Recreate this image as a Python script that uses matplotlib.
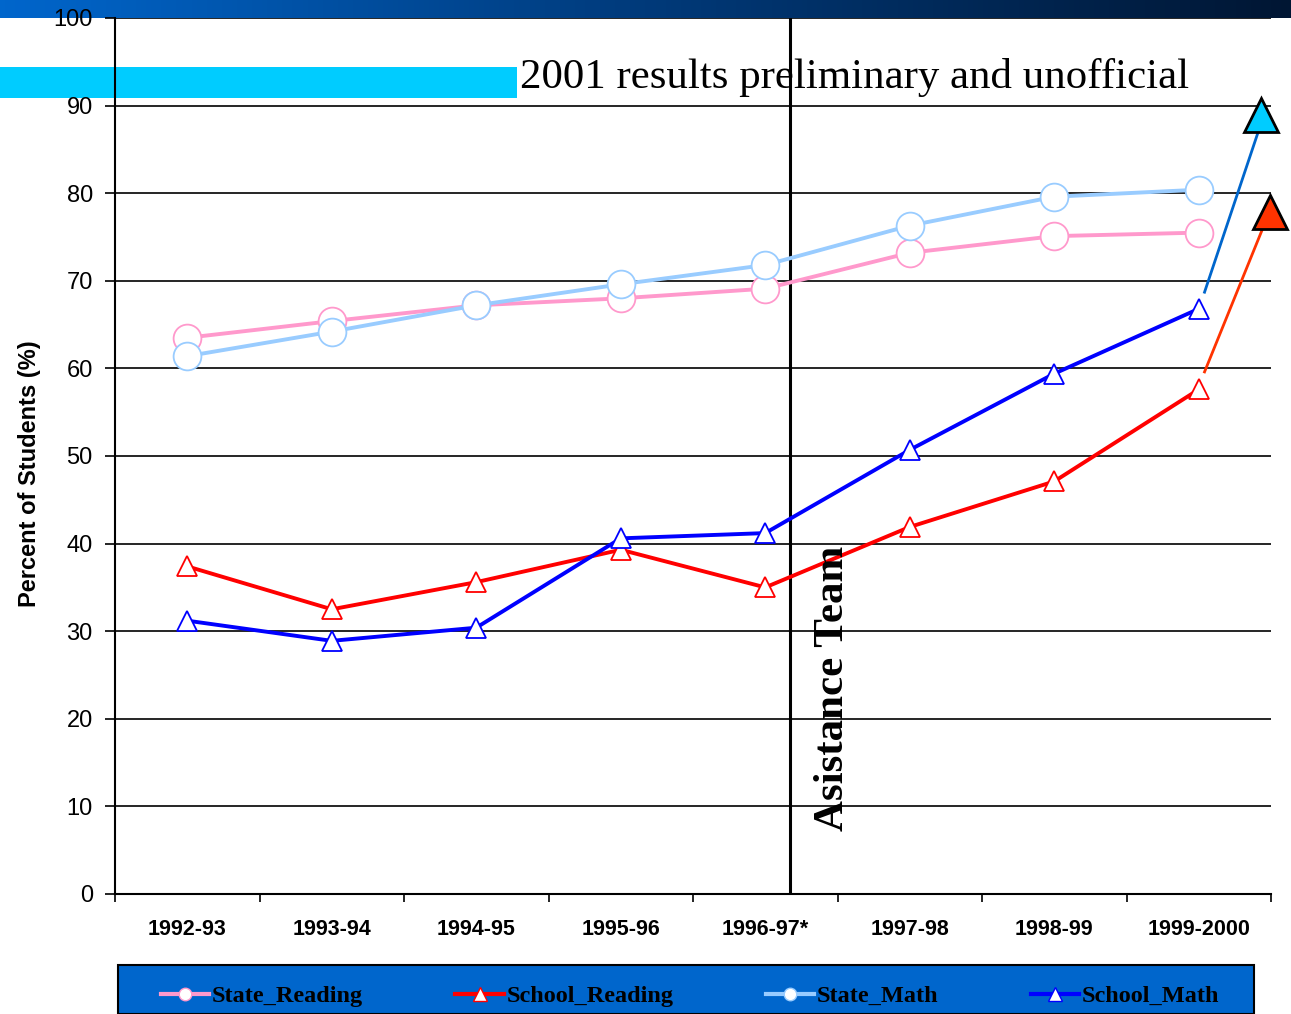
import numpy as np
import matplotlib
matplotlib.use("Agg")
import matplotlib.pyplot as plt
from matplotlib.patches import Rectangle
from matplotlib.lines import Line2D

years = ["1992-93", "1993-94", "1994-95", "1995-96", "1996-97*", "1997-98", "1998-99", "1999-2000"]
state_reading = [63.5, 65.4, 67.2, 68.0, 69.1, 73.2, 75.1, 75.5]
school_reading = [37.4, 32.5, 35.6, 39.3, 35.0, 41.9, 47.1, 57.6]
state_math = [61.4, 64.2, 67.2, 69.6, 71.8, 76.3, 79.6, 80.4]
school_math = [31.2, 28.9, 30.4, 40.6, 41.2, 50.7, 59.4, 66.8]
# preliminary 2001 results
math_2001 = 88.9
reading_2001 = 77.9

W, H = 1291, 1014
fig = plt.figure(figsize=(W / 100, H / 100), dpi=100)
ax = fig.add_axes([115 / W, 1 - 894 / H, 1156 / W, 876 / H])

# header gradient bar
bar = fig.add_axes([0, 1 - 18 / H, 1, 18 / H], zorder=-1)
grad = np.linspace(0, 1, 256).reshape(1, -1)
cmap = matplotlib.colors.LinearSegmentedColormap.from_list("hdr", ["#0066cc", "#003a7a", "#001633"])
bar.imshow(grad, aspect="auto", cmap=cmap, extent=[0, 1, 0, 1])
bar.set_axis_off()

x = np.arange(len(years))
ax.set_xlim(-0.5, len(years) - 0.5)
ax.set_ylim(0, 100)

ax.add_patch(Rectangle((0, 1 - 98 / H), 517 / W, 31 / H, transform=fig.transFigure,
                       facecolor="#00ccff", edgecolor="none", clip_on=False, zorder=0.5))

for yv in range(10, 101, 10):
    ax.axhline(yv, color="black", lw=1.2, zorder=1)

ax.axvline(4.17, color="black", lw=2.2, zorder=1.5)

ax.plot(x, state_reading, color="#ff99cc", lw=2.8, marker="o", ms=20, mfc="white",
        mec="#ff99cc", mew=1.3, zorder=3)
ax.plot(x, state_math, color="#99ccff", lw=2.8, marker="o", ms=20, mfc="white",
        mec="#99ccff", mew=1.3, zorder=3)
ax.plot(x, school_reading, color="#ff0000", lw=2.8, marker="^", ms=15, mfc="white",
        mec="#ff0000", mew=1.3, zorder=3)
ax.plot(x, school_math, color="#0000ff", lw=2.8, marker="^", ms=15, mfc="white",
        mec="#0000ff", mew=1.3, zorder=3)

# 2001 extension
ax.plot([7.04, 7.45], [68.7, math_2001], color="#0066cc", lw=2, clip_on=False, zorder=3)
ax.plot([7.04, 7.49], [59.6, reading_2001], color="#ff3300", lw=2, clip_on=False, zorder=3)
ax.plot([7.43], [math_2001], marker="^", ms=24, mfc="#00ccff", mec="black", mew=2,
        clip_on=False, zorder=4)
ax.plot([7.49], [reading_2001], marker="^", ms=24, mfc="#ff3300", mec="black", mew=2,
        clip_on=False, zorder=4)

fig.text(520 / W, 1 - 88 / H, "2001 results preliminary and unofficial",
         family="Liberation Serif", fontsize=30.9, va="baseline", ha="left")
ax.text(4.47, 23.5, "Asistance Team", rotation=90, family="Liberation Serif",
        fontweight="bold", fontsize=31, ha="center", va="center", zorder=5)

ax.set_xticks(x)
ax.set_xticklabels(years, fontweight="bold", fontsize=15.5, family="Liberation Sans")
ax.set_xticks(np.arange(-0.5, len(years), 1), minor=True)
ax.tick_params(axis="x", which="major", length=0, pad=18)
ax.tick_params(axis="x", which="minor", length=6, width=1.2, direction="out")
ax.set_yticks(range(0, 101, 10))
ax.set_yticklabels([str(v) for v in range(0, 101, 10)], fontsize=17, family="Liberation Sans")
ax.tick_params(axis="y", length=7, width=1.2, pad=9)
ax.set_ylabel("Percent of Students (%)", fontweight="bold", fontsize=17,
              family="Liberation Sans")
ax.yaxis.set_label_coords(-0.064, 0.48)

for s in ["top", "right"]:
    ax.spines[s].set_visible(False)
ax.spines["left"].set_linewidth(1.5)
ax.spines["bottom"].set_linewidth(1.5)

# legend box
fig.patches.append(Rectangle((118 / W, 0), 1136 / W, 49 / H, transform=fig.transFigure,
                             facecolor="#0066cc", edgecolor="black", lw=1.5))
handles = [
    Line2D([], [], color="#ff99cc", lw=3, marker="o", ms=9, mfc="white", mec="#ff99cc"),
    Line2D([], [], color="#ff0000", lw=3, marker="^", ms=10, mfc="white", mec="#ff0000"),
    Line2D([], [], color="#99ccff", lw=3, marker="o", ms=9, mfc="white", mec="#99ccff"),
    Line2D([], [], color="#0000ff", lw=3, marker="^", ms=10, mfc="white", mec="#0000ff"),
]
labels = ["State_Reading", "School_Reading", "State_Math", "School_Math"]
fig.legend(handles, labels, loc="center", bbox_to_anchor=(690 / W, 1 - 996 / H), ncol=4,
           frameon=False, handlelength=2.0, handletextpad=0.1, columnspacing=3.8,
           prop={"family": "Liberation Serif", "weight": "bold", "size": 17.5})

fig.savefig("out.png", dpi=100)
